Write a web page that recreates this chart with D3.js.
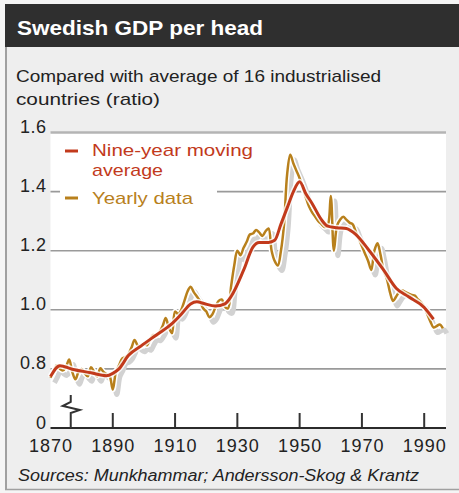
<!DOCTYPE html>
<html>
<head>
<meta charset="utf-8">
<script src="https://cdn.jsdelivr.net/npm/d3@7"></script>
<style>
  body { margin: 0; background: #f5f5f5; }
  text { font-family: "Liberation Sans", Arial, sans-serif; }
</style>
</head>
<body>
<script>
// yearly ratio, 1870 to 1996
const firstYear = 1870;
const yearlyValues = [
  0.770, 0.790, 0.812, 0.800, 0.795, 0.808, 0.832, 0.790, 0.765, 0.790,
  0.800, 0.785, 0.775, 0.806, 0.790, 0.775, 0.802, 0.790, 0.782, 0.775,
  0.730, 0.790, 0.812, 0.835, 0.840, 0.850, 0.872, 0.898, 0.880, 0.875,
  0.885, 0.880, 0.900, 0.915, 0.912, 0.925, 0.945, 0.972, 0.940, 0.921,
  0.994, 0.985, 1.000, 1.030, 1.062, 1.078, 1.060, 1.045, 1.030, 1.005,
  0.995, 0.975, 0.985, 1.010, 1.030, 1.035, 1.010, 1.005, 1.080, 1.150,
  1.200, 1.185, 1.210, 1.230, 1.255, 1.258, 1.270, 1.262, 1.250, 1.265,
  1.275, 1.200, 1.165, 1.150, 1.200, 1.290, 1.460, 1.525, 1.495, 1.470,
  1.445, 1.415, 1.380, 1.350, 1.330, 1.315, 1.300, 1.290, 1.280, 1.285,
  1.385, 1.200, 1.285, 1.305, 1.315, 1.305, 1.295, 1.290, 1.265, 1.240,
  1.215, 1.190, 1.165, 1.135, 1.200, 1.225, 1.185, 1.130, 1.105, 1.060,
  1.030, 1.045, 1.060, 1.065, 1.060, 1.055, 1.050, 1.048, 1.035, 1.025,
  1.010, 0.985, 0.960, 0.940, 0.945, 0.950, 0.937
];

// nine-year moving average
const maYears = [1870, 1873, 1877, 1883, 1888, 1890, 1892, 1895, 1899, 1904,
  1909, 1912, 1915, 1917, 1919, 1923, 1926, 1928, 1932, 1935,
  1937, 1940, 1942, 1944, 1946, 1948, 1950, 1952, 1954, 1957,
  1959, 1962, 1965, 1968, 1972, 1977, 1981, 1985, 1990, 1993];
const maValues = [0.774, 0.811, 0.799, 0.787, 0.777, 0.785, 0.800, 0.845, 0.877, 0.915,
  0.953, 0.985, 1.020, 1.027, 1.022, 1.013, 1.020, 1.045, 1.134, 1.212,
  1.228, 1.228, 1.235, 1.290, 1.345, 1.400, 1.433, 1.393, 1.360, 1.305,
  1.283, 1.278, 1.275, 1.255, 1.205, 1.134, 1.073, 1.044, 1.008, 0.968];

const xTicks = [1870, 1890, 1910, 1930, 1950, 1970, 1990];
const yTicks = [0.6, 0.8, 1.0, 1.2, 1.4, 1.6];      // 0.6 is drawn as the broken "0"
const yTickLabels = ["0", "0.8", "1.0", "1.2", "1.4", "1.6"];

const w = 459, h = 493;
const red = "#c23a1c", ochre = "#b8801c";

const svg = d3.select("body").append("svg")
    .attr("width", w)
    .attr("height", h);

// panel
svg.append("rect").attr("x", 5).attr("y", 4).attr("width", w - 5).attr("height", 486)
    .attr("fill", "#eeeeee");
svg.append("line").attr("x1", 6).attr("x2", 6).attr("y1", 46).attr("y2", 490)
    .attr("stroke", "#a0a0a0").attr("stroke-width", 2);
svg.append("line").attr("x1", 5).attr("x2", w).attr("y1", 489.5).attr("y2", 489.5)
    .attr("stroke", "#a0a0a0").attr("stroke-width", 1.5);
svg.append("rect").attr("x", 5).attr("y", 4).attr("width", w - 5).attr("height", 43)
    .attr("fill", "#2f2f2f");

svg.append("text").attr("x", 17).attr("y", 35)
    .attr("fill", "white").attr("font-size", 21).attr("font-weight", "bold")
    .attr("textLength", 246).attr("lengthAdjust", "spacingAndGlyphs")
    .text("Swedish GDP per head");

svg.append("text").attr("x", 16).attr("y", 82)
    .attr("fill", "#222").attr("font-size", 17)
    .attr("textLength", 365).attr("lengthAdjust", "spacingAndGlyphs")
    .text("Compared with average of 16 industrialised");
svg.append("text").attr("x", 16).attr("y", 105)
    .attr("fill", "#222").attr("font-size", 17)
    .attr("textLength", 144).attr("lengthAdjust", "spacingAndGlyphs")
    .text("countries (ratio)");

const xScale = d3.scaleLinear().domain([1870, 1997]).range([50.5, 446]);
const yScale = d3.scaleLinear().domain([0.6, 1.6]).range([428, 132.5]);

// plot area
svg.append("rect")
    .attr("x", xScale(1870)).attr("y", yScale(1.6))
    .attr("width", xScale(1997) - xScale(1870))
    .attr("height", yScale(0.6) - yScale(1.6))
    .attr("fill", "white");

// gridlines
svg.append("g").selectAll("line")
    .data(yTicks.slice(1))
    .enter().append("line")
    .attr("x1", xScale(1870)).attr("x2", xScale(1997))
    .attr("y1", d => yScale(d)).attr("y2", d => yScale(d))
    .attr("stroke", d => d === 1.6 ? "#b4b4b4" : "#9a9a9a")
    .attr("stroke-width", d => d === 1.6 ? 2.5 : 1.6);

// y labels
const yAxis = d3.axisLeft(yScale)
    .tickValues(yTicks)
    .tickSize(0)
    .tickPadding(4)
    .tickFormat((d, i) => yTickLabels[i]);
const yAxisG = svg.append("g")
    .attr("transform", `translate(${xScale(1870)},0)`)
    .call(yAxis);
yAxisG.select(".domain").remove();
yAxisG.selectAll("text")
    .attr("dy", 0)
    .attr("font-size", 18)
    .attr("letter-spacing", 0.5)
    .attr("fill", "#222")
    .attr("font-family", "Liberation Sans, Arial, sans-serif");

// x axis
const xAxis = d3.axisBottom(xScale)
    .tickValues(xTicks)
    .tickSize(0)
    .tickPadding(10)
    .tickFormat(d3.format("d"));
const xAxisG = svg.append("g")
    .attr("transform", `translate(0,${yScale(0.6)})`)
    .call(xAxis);
xAxisG.select(".domain").remove();
xAxisG.selectAll("text")
    .attr("dy", 14)
    .attr("font-size", 18)
    .attr("letter-spacing", 1)
    .attr("fill", "#222")
    .attr("font-family", "Liberation Sans, Arial, sans-serif");

svg.append("g").selectAll("line")
    .data(xTicks.slice(1))
    .enter().append("line")
    .attr("x1", d => xScale(d)).attr("x2", d => xScale(d))
    .attr("y1", yScale(0.6) - 15).attr("y2", yScale(0.6))
    .attr("stroke", "#333").attr("stroke-width", 2);

svg.append("line")
    .attr("x1", xScale(1870)).attr("x2", xScale(1997))
    .attr("y1", yScale(0.6)).attr("y2", yScale(0.6))
    .attr("stroke", "#2a2a2a").attr("stroke-width", 2);

// axis break mark
const bx = xScale(1876.5), by = yScale(0.6);
svg.append("path")
    .attr("d", `M${bx},${by - 33} L${bx},${by - 26} L${bx - 8},${by - 22} L${bx + 9},${by - 18} L${bx},${by - 15} L${bx},${by}`)
    .attr("fill", "none").attr("stroke", "#333").attr("stroke-width", 2);

// legend
svg.append("rect").attr("x", 60).attr("y", 139).attr("width", 157).attr("height", 74)
    .attr("fill", "white");
svg.append("line").attr("x1", 65).attr("x2", 78).attr("y1", 151).attr("y2", 151)
    .attr("stroke", red).attr("stroke-width", 3);
svg.append("line").attr("x1", 65).attr("x2", 78).attr("y1", 198).attr("y2", 198)
    .attr("stroke", ochre).attr("stroke-width", 3);
svg.append("text").attr("x", 92).attr("y", 156).attr("fill", red).attr("font-size", 17)
    .attr("textLength", 161).attr("lengthAdjust", "spacingAndGlyphs")
    .text("Nine-year moving");
svg.append("text").attr("x", 92).attr("y", 176).attr("fill", red).attr("font-size", 17)
    .attr("textLength", 71).attr("lengthAdjust", "spacingAndGlyphs")
    .text("average");
svg.append("text").attr("x", 92).attr("y", 204).attr("fill", ochre).attr("font-size", 17)
    .attr("textLength", 101).attr("lengthAdjust", "spacingAndGlyphs")
    .text("Yearly data");

// lines
const yearly = yearlyValues.map((v, i) => ({ year: firstYear + i, value: v }));
const moving = maYears.map((yr, i) => ({ year: yr, value: maValues[i] }));

const yearlyLine = d3.line()
    .x(d => xScale(d.year))
    .y(d => yScale(d.value))
    .curve(d3.curveCatmullRom.alpha(0.5));
const movingLine = d3.line()
    .x(d => xScale(d.year))
    .y(d => yScale(d.value))
    .curve(d3.curveMonotoneX);

const lines = svg.append("g");
lines.append("path").datum(yearly)
    .attr("d", yearlyLine)
    .attr("transform", "translate(4,5)")
    .attr("fill", "none").attr("stroke", "#d2d2d2").attr("stroke-width", 5)
    .attr("stroke-linejoin", "round");
lines.append("path").datum(yearly)
    .attr("d", yearlyLine)
    .attr("fill", "none").attr("stroke", "white").attr("stroke-width", 5.5)
    .attr("stroke-linejoin", "round");
lines.append("path").datum(yearly)
    .attr("d", yearlyLine)
    .attr("fill", "none").attr("stroke", ochre).attr("stroke-width", 2.5)
    .attr("stroke-linejoin", "round");
lines.append("path").datum(moving)
    .attr("d", movingLine)
    .attr("fill", "none").attr("stroke", "white").attr("stroke-width", 6)
    .attr("stroke-opacity", 0.8);
lines.append("path").datum(moving)
    .attr("d", movingLine)
    .attr("fill", "none").attr("stroke", red).attr("stroke-width", 3);

// source
svg.append("text").attr("x", 18).attr("y", 481)
    .attr("fill", "#222").attr("font-size", 16).attr("font-style", "italic")
    .attr("textLength", 401).attr("lengthAdjust", "spacingAndGlyphs")
    .text("Sources: Munkhammar; Andersson-Skog & Krantz");
</script>
</body>
</html>
